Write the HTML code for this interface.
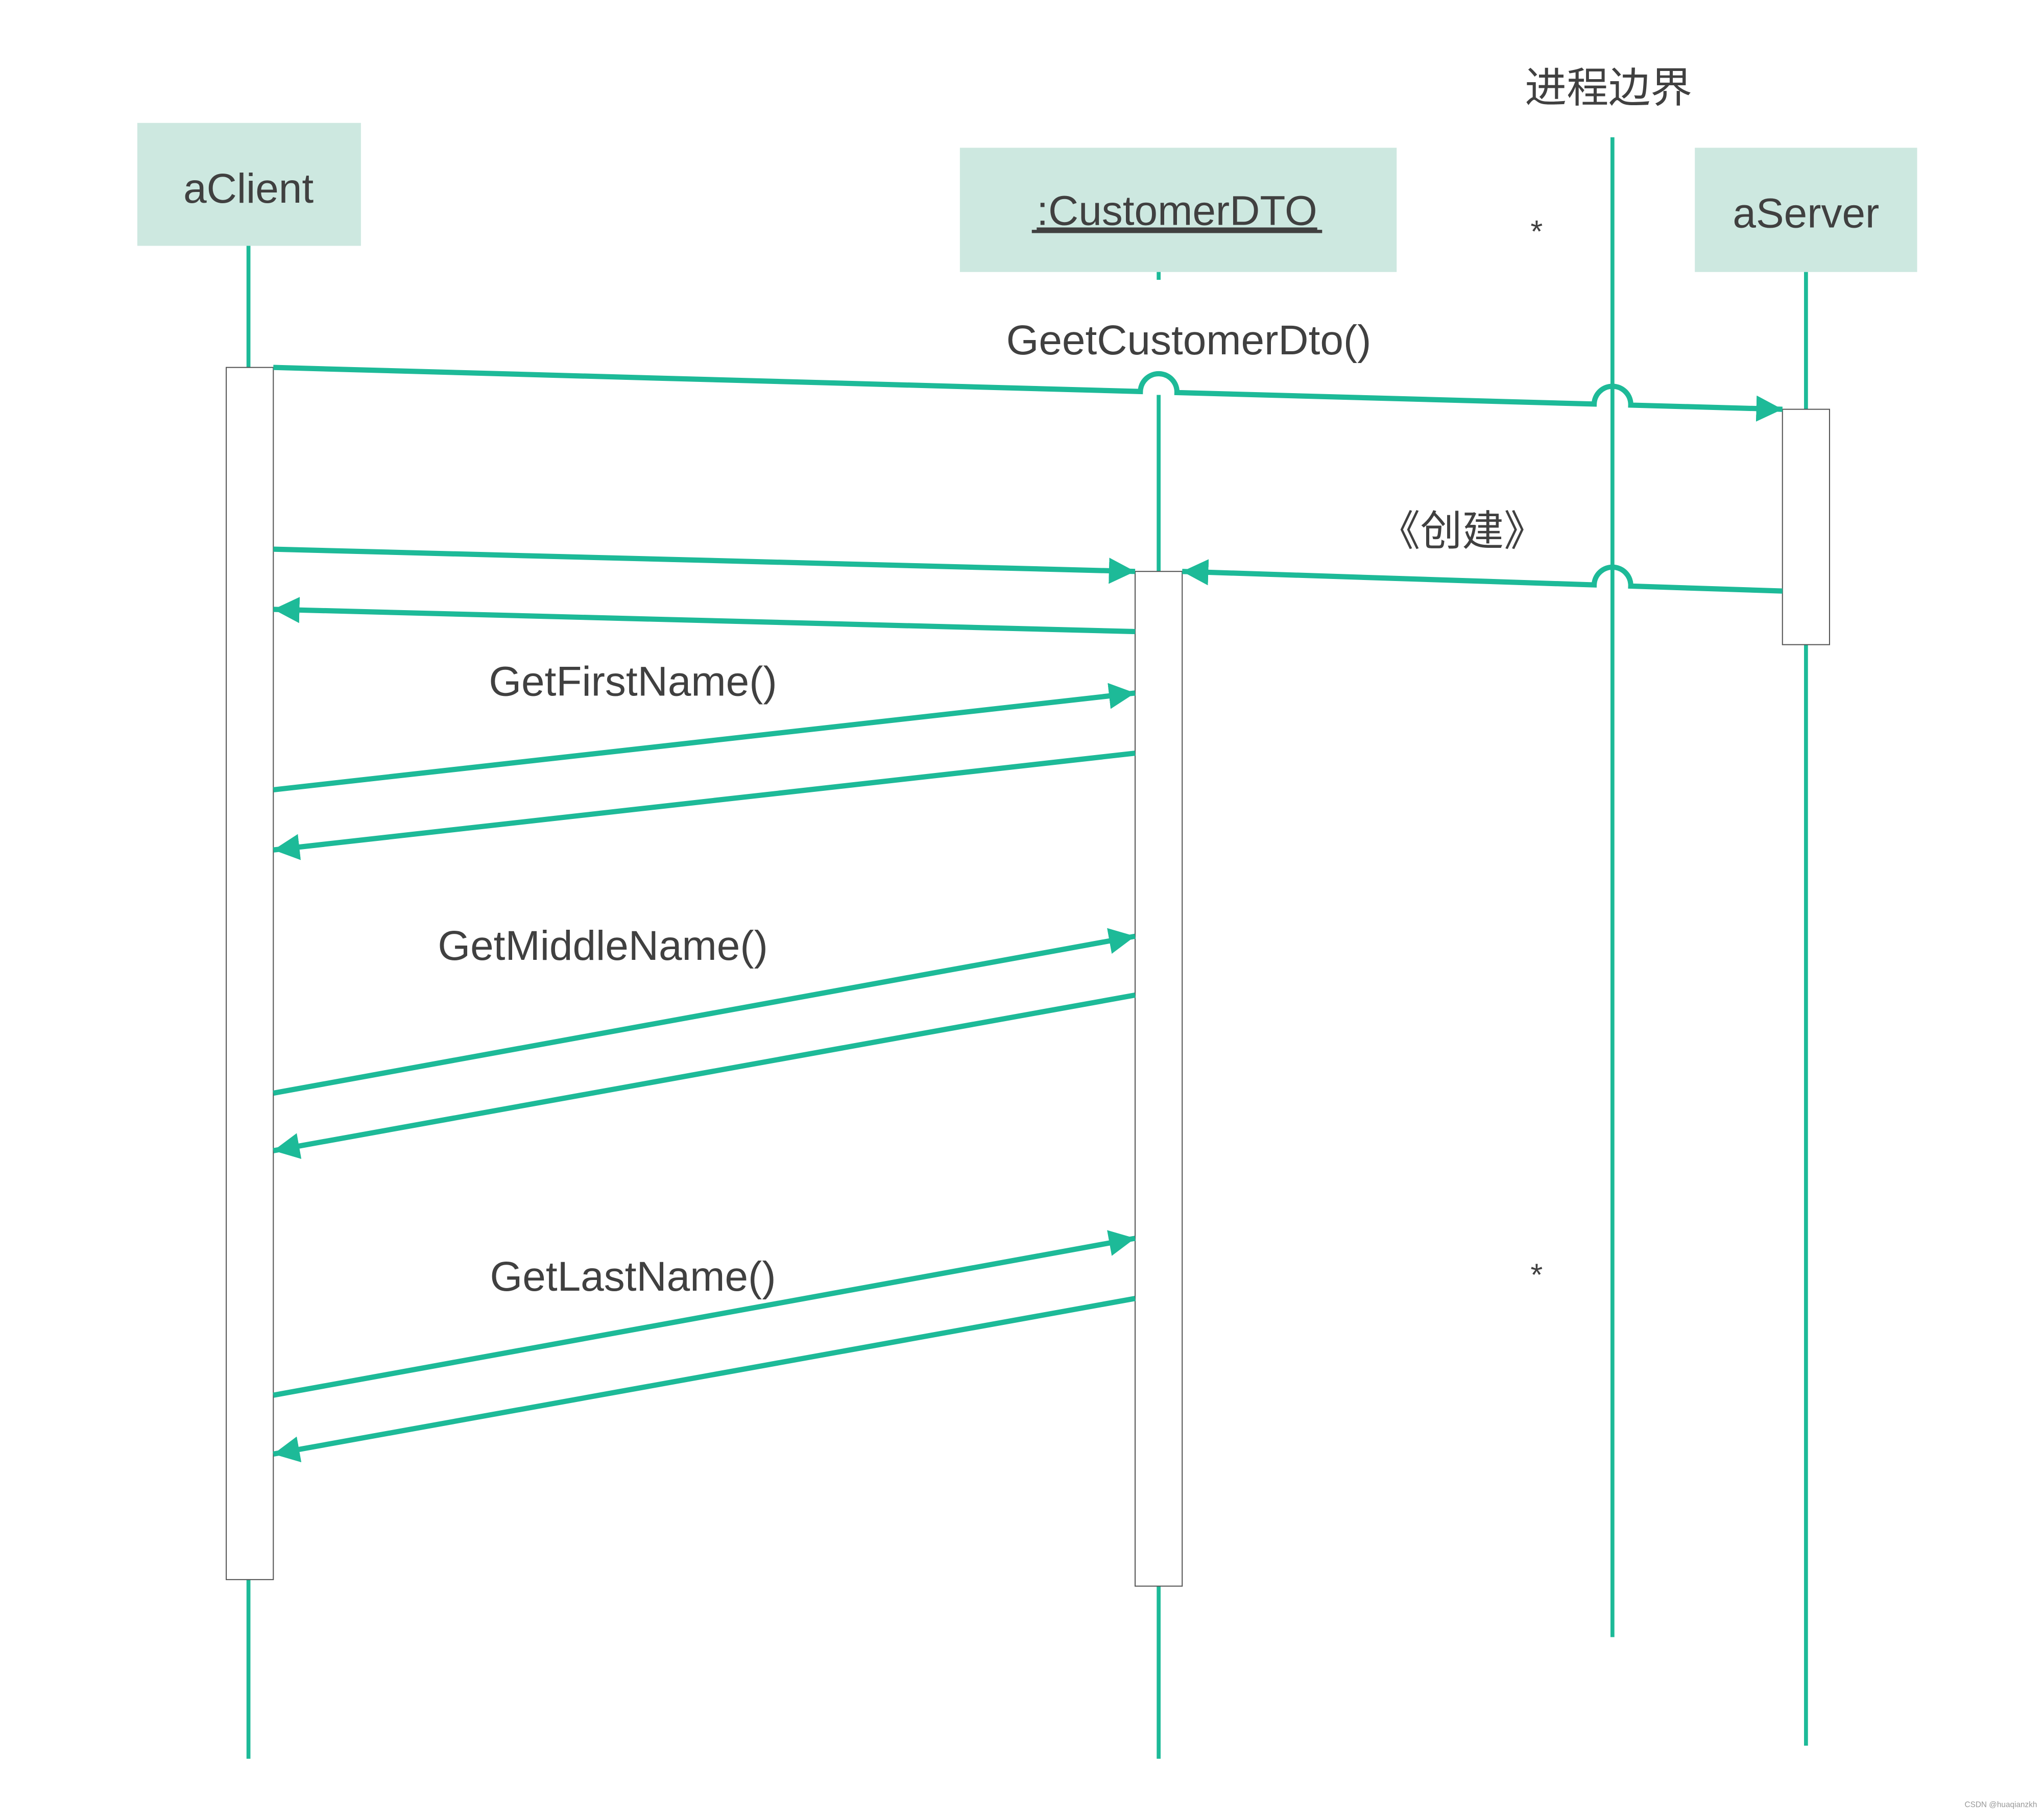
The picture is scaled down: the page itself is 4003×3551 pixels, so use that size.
<!DOCTYPE html>
<html><head><meta charset="utf-8"><style>html,body{margin:0;padding:0;background:#fff}svg{display:block}</style></head>
<body>
<svg width="4003" height="3551" viewBox="0 0 1563 1386.5" preserveAspectRatio="none" xmlns="http://www.w3.org/2000/svg">
<defs>
<marker id="a" viewBox="0 0 10 10" refX="10" refY="5" markerWidth="5" markerHeight="5" markerUnits="strokeWidth" orient="auto"><path d="M0,0L10,5L0,10z" fill="#1dba98"/></marker>
</defs>
<g font-family="Liberation Sans, 'Noto Sans CJK SC', sans-serif" fill="#404040">
<!-- boxes -->
<rect x="105" y="94" width="171" height="94" fill="#cde8e0"/>
<rect x="734" y="113" width="334" height="95" fill="#cde8e0"/>
<rect x="1296" y="113" width="170" height="95" fill="#cde8e0"/>
<text x="190" y="155" font-size="32" text-anchor="middle">aClient</text>
<text x="900" y="172" font-size="32" text-anchor="middle" text-decoration="underline">:CustomerDTO</text>
<line x1="789" y1="177" x2="1011" y2="177" stroke="#404040" stroke-width="2.5"/>
<text x="1381" y="174" font-size="32" text-anchor="middle">aServer</text>
<text x="1230" y="78" font-size="32" text-anchor="middle">进程边界</text>
<text x="1175" y="185" font-size="24" text-anchor="middle">*</text>
<text x="1175" y="983" font-size="24" text-anchor="middle">*</text>
</g>
<g stroke="#1dba98" stroke-width="3" fill="none">
<line x1="190" y1="188" x2="190" y2="1345"/>
<line x1="886" y1="208" x2="886" y2="214"/>
<line x1="886" y1="302" x2="886" y2="1345"/>
<line x1="1233" y1="105" x2="1233" y2="1252"/>
<line x1="1381" y1="208" x2="1381" y2="1335"/>
</g>
<g fill="#fff" stroke="#555" stroke-width="0.8">
<rect x="173" y="281" width="36" height="927"/>
<rect x="868" y="437" width="36" height="776"/>
<rect x="1363" y="313" width="36" height="180"/>
</g>
<g stroke="#1dba98" stroke-width="4" fill="none" marker-end="url(#a)">
<path d="M209,281 L872,299.4 A14,14 0 0 1 900,300.2 L1219,309 A14,14 0 0 1 1247,309.8 L1363,313"/>
<path d="M209,420 L868,437"/>
<path d="M1363,452 L1247,448.2 A14,14 0 0 0 1219,447.3 L904,437"/>
<path d="M868,483 L209,466"/>
<path d="M209,604 L868,530"/>
<path d="M868,576 L209,650"/>
<path d="M209,836 L868,716"/>
<path d="M868,761 L209,880"/>
<path d="M209,1067 L868,947"/>
<path d="M868,993 L209,1112"/>
</g>
<g font-family="Liberation Sans, sans-serif" fill="#404040" font-size="32">
<text x="909" y="271" text-anchor="middle">GeetCustomerDto()</text>
<text x="1118" y="417" text-anchor="middle" font-family="Liberation Sans, 'Noto Sans CJK SC', sans-serif">《创建》</text>
<text x="484" y="532" text-anchor="middle">GetFirstName()</text>
<text x="461" y="734" text-anchor="middle">GetMiddleName()</text>
<text x="484" y="987" text-anchor="middle">GetLastName()</text>
<text x="1530" y="1382" font-size="6" fill="#999" text-anchor="middle">CSDN @huaqianzkh</text>
</g>
</svg>
</body></html>
